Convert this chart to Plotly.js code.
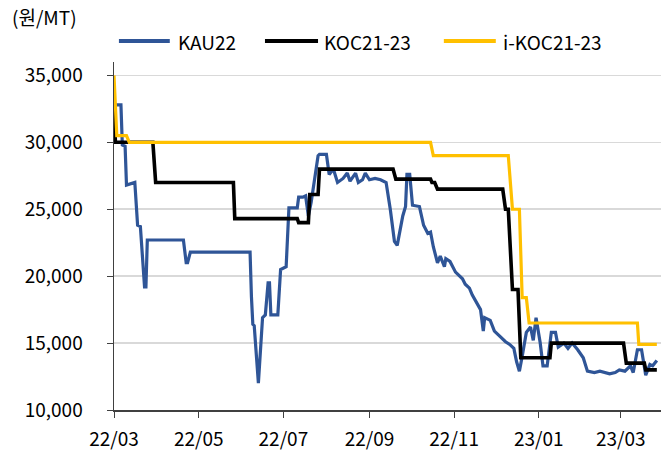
<!DOCTYPE html>
<html><head><meta charset="utf-8">
<script src="https://cdn.plot.ly/plotly-3.0.1.min.js"></script>
<style>html,body{margin:0;padding:0;background:#fff}#c{width:664px;height:455px}</style>
</head><body><div id="c"></div>
<script>
const kauDates = ["2022-03-01","2022-03-06","2022-03-07","2022-03-09","2022-03-10","2022-03-16","2022-03-18","2022-03-20","2022-03-23","2022-03-24","2022-03-25","2022-04-20","2022-04-22","2022-04-23","2022-04-25","2022-06-07","2022-06-08","2022-06-09","2022-06-10","2022-06-13","2022-06-16","2022-06-18","2022-06-20","2022-06-21","2022-06-22","2022-06-27","2022-06-29","2022-07-03","2022-07-05","2022-07-11","2022-07-12","2022-07-15","2022-07-17","2022-07-19","2022-07-21","2022-07-26","2022-07-27","2022-08-01","2022-08-03","2022-08-06","2022-08-09","2022-08-13","2022-08-16","2022-08-18","2022-08-22","2022-08-24","2022-08-27","2022-08-29","2022-09-01","2022-09-05","2022-09-09","2022-09-13","2022-09-16","2022-09-19","2022-09-21","2022-09-25","2022-09-27","2022-09-28","2022-09-30","2022-10-02","2022-10-07","2022-10-10","2022-10-13","2022-10-15","2022-10-17","2022-10-20","2022-10-22","2022-10-25","2022-10-26","2022-10-29","2022-11-02","2022-11-04","2022-11-07","2022-11-09","2022-11-12","2022-11-14","2022-11-17","2022-11-20","2022-11-22","2022-11-23","2022-11-27","2022-11-30","2022-12-04","2022-12-08","2022-12-11","2022-12-14","2022-12-16","2022-12-18","2022-12-20","2022-12-23","2022-12-26","2022-12-28","2022-12-30","2023-01-02","2023-01-04","2023-01-07","2023-01-10","2023-01-13","2023-01-15","2023-01-19","2023-01-22","2023-01-25","2023-01-29","2023-02-02","2023-02-05","2023-02-10","2023-02-14","2023-02-18","2023-02-21","2023-02-25","2023-02-28","2023-03-04","2023-03-08","2023-03-10","2023-03-13","2023-03-16","2023-03-19","2023-03-22","2023-03-24","2023-03-27"];
const kauValues = [32800,32800,29800,29700,26800,27000,23800,23700,19200,19200,22700,22700,21000,21000,21800,21800,18450,16400,16300,12000,16900,17100,19500,19500,17100,17100,20500,20700,25100,25100,25900,25900,26000,24500,25500,29000,29100,29100,27600,28000,27000,27300,27700,27100,27700,27000,27200,27700,27200,27300,27200,27000,25000,22600,22300,24500,25200,27600,27600,25300,25200,23800,23200,23300,22200,21000,21500,20700,21300,21100,20300,20100,19800,19400,19100,18600,18000,17500,15900,16900,16700,15900,15500,15100,14900,14600,13600,12900,14000,15800,16200,15200,16900,15000,13300,13300,15800,15800,14700,15000,14600,15000,14500,13900,12900,12800,12900,12800,12700,12800,13000,12900,13300,12800,14500,14500,12600,13400,13300,13700];

const kocDates = ["2022-03-01","2022-03-02","2022-03-29","2022-03-31","2022-05-26","2022-05-27","2022-07-11","2022-07-12","2022-07-19","2022-07-20","2022-07-26","2022-07-27","2022-09-18","2022-09-20","2022-10-15","2022-10-16","2022-10-18","2022-10-20","2022-12-06","2022-12-08","2022-12-10","2022-12-13","2022-12-17","2022-12-19","2023-01-09","2023-01-10","2023-03-03","2023-03-05","2023-03-18","2023-03-19","2023-03-27"];
const kocValues = [32500,30000,30000,27000,27000,24300,24300,24000,24000,26100,26100,28000,28000,27250,27250,27000,27000,26500,26500,25000,25000,19000,19000,13900,13900,15000,15000,13500,13500,13000,13000];

const ikocDates = ["2022-03-01","2022-03-03","2022-03-10","2022-03-12","2022-10-15","2022-10-17","2022-12-10","2022-12-13","2022-12-18","2022-12-20","2022-12-23","2022-12-25","2023-03-13","2023-03-14","2023-03-27"];
const ikocValues = [35000,30500,30500,30000,30000,29000,29000,25000,25000,18400,18400,16500,16500,14900,14900];

const seriesNames = ["KAU22","KOC21-23","i-KOC21-23"];
const seriesColors = ["#2F5597","#000000","#FFC000"];
const xTickVals = ["2022-03-01","2022-05-01","2022-07-01","2022-09-01","2022-11-01","2023-01-01","2023-03-01"];
const xTickText = ["22/03","22/05","22/07","22/09","22/11","23/01","23/03"];
const yTickVals = [10000,15000,20000,25000,30000,35000];
const yUnit = "(원/MT)";

const F = "'Noto Sans CJK KR', 'Noto Sans', sans-serif";
const traces = [
  {x:kauDates, y:kauValues, name:seriesNames[0], mode:"lines", line:{color:seriesColors[0], width:3.2}},
  {x:kocDates, y:kocValues, name:seriesNames[1], mode:"lines", line:{color:seriesColors[1], width:3.6}},
  {x:ikocDates, y:ikocValues, name:seriesNames[2], mode:"lines", line:{color:seriesColors[2], width:3.2}}
];

// custom legend (longer line samples like the original)
const legLineX = [[0.009,0.102],[0.276,0.373],[0.603,0.698]];
const legTextX = [0.113,0.381,0.707];
const legY = 1.06;
const shapes = [], annotations = [];
seriesNames.forEach((n,i)=>{
  shapes.push({type:"line", xref:"paper", yref:"paper", x0:legLineX[i][0], x1:legLineX[i][1], y0:legY, y1:legY,
    line:{color:seriesColors[i], width:4}});
  annotations.push({text:n, xref:"paper", yref:"paper", x:legTextX[i], y:legY, xanchor:"left", yanchor:"middle",
    showarrow:false, font:{family:F, size:19, color:"#000"}});
});
annotations.push({text:yUnit, xref:"paper", yref:"paper", x:-0.19, y:1.13, xanchor:"left", yanchor:"middle",
  showarrow:false, font:{family:F, size:19, color:"#000"}});

const layout = {
  width:664, height:455,
  margin:{l:114, r:3, t:62, b:45},
  paper_bgcolor:"#fff", plot_bgcolor:"#fff",
  font:{family:F, size:19, color:"#000"},
  showlegend:false,
  xaxis:{type:"date", range:["2022-03-01","2023-03-30"], tickvals:xTickVals, ticktext:xTickText,
    showgrid:false, showline:true, linecolor:"#404040", linewidth:1.5, ticks:"outside", ticklen:6, tickcolor:"#404040",
    tickfont:{family:F, size:19}, ticklabelstandoff:6, zeroline:false},
  yaxis:{range:[10000,36000], tickvals:yTickVals, tickformat:",d", showgrid:true, gridcolor:"#d9d9d9", gridwidth:1.5,
    showline:true, linecolor:"#404040", linewidth:1.5, ticks:"outside", ticklen:6, tickcolor:"#404040",
    tickfont:{family:F, size:19}, ticklabelstandoff:20, zeroline:false},
  shapes:shapes,
  annotations:annotations
};
Plotly.newPlot("c", traces, layout, {displayModeBar:false, staticPlot:true});
</script></body></html>
